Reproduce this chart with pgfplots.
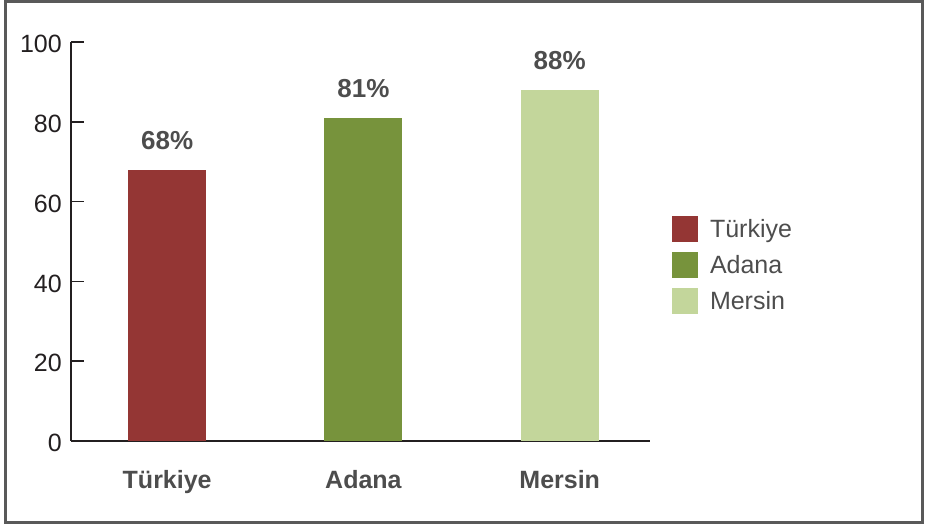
\documentclass[border=0pt]{standalone}
\usepackage{fontspec}
\setmainfont{Liberation Sans}
\usepackage{pgfplots}
\pgfplotsset{compat=1.18}
\definecolor{cT}{HTML}{943634}
\definecolor{cA}{HTML}{77933C}
\definecolor{cM}{HTML}{C3D69B}
\definecolor{txt}{HTML}{4D4D4D}
\definecolor{tick}{HTML}{231F20}
\definecolor{frame}{HTML}{595959}
\begin{document}
\begin{tikzpicture}
\useasboundingbox (0,0) rectangle (927bp,524bp);
\draw[frame, line width=3bp] (5.5bp,1.5bp) rectangle (922.5bp,522.5bp);
\begin{axis}[
  at={(71bp,83bp)}, anchor=south west,
  scale only axis, width=579bp, height=399bp,
  xmin=-0.49, xmax=2.46, ymin=0, ymax=100,
  axis x line=bottom, axis y line=left,
  axis line style={-, line width=1.5bp, draw=tick},
  tick align=inside,
  ytick={0,20,...,100},
  ytick style={line width=1.5bp, draw=tick},
  major tick length=13bp,
  yticklabel style={font=\fontsize{25bp}{30bp}\selectfont, text=tick, anchor=east, inner sep=0pt, xshift=-9bp, yshift=-2bp},
  /pgf/number format/assume math mode=true,
  xtick={0,1,2}, xticklabels={Türkiye,Adana,Mersin},
  xtick style={draw=none},
  xticklabel style={font=\fontsize{25bp}{30bp}\selectfont\bfseries, text=txt, anchor=base, inner sep=0pt, yshift=-35bp},
  extra x ticks={2.46}, extra x tick labels={},
  extra x tick style={major tick length=8bp, tick style={draw=tick, line width=1.5bp}},
  ybar, bar width=78bp, bar shift=0pt,
  nodes near coords={\pgfmathprintnumber{\pgfplotspointmeta}\%},
  nodes near coords style={font=\fontsize{26bp}{30bp}\selectfont\bfseries, text=txt, anchor=base, inner sep=0pt, yshift=20bp},
  legend style={draw=none, fill=none, at={(1,0.441)}, anchor=west, xshift=22bp,
    inner sep=0pt, outer sep=0pt, font=\fontsize{25bp}{30bp}\selectfont, text=txt,
    /tikz/every node/.append style={inner sep=0pt}, column sep=12bp, row sep=10bp},
  legend cell align=left,
  legend image code/.code={\fill[#1] (0bp,-13bp) rectangle (26bp,13bp);},
]
\addplot[fill=cT, draw=none] coordinates {(0,68)};
\addplot[fill=cA, draw=none] coordinates {(1,81)};
\addplot[fill=cM, draw=none] coordinates {(2,88)};
\legend{Türkiye,Adana,Mersin}
\end{axis}
\end{tikzpicture}
\end{document}
